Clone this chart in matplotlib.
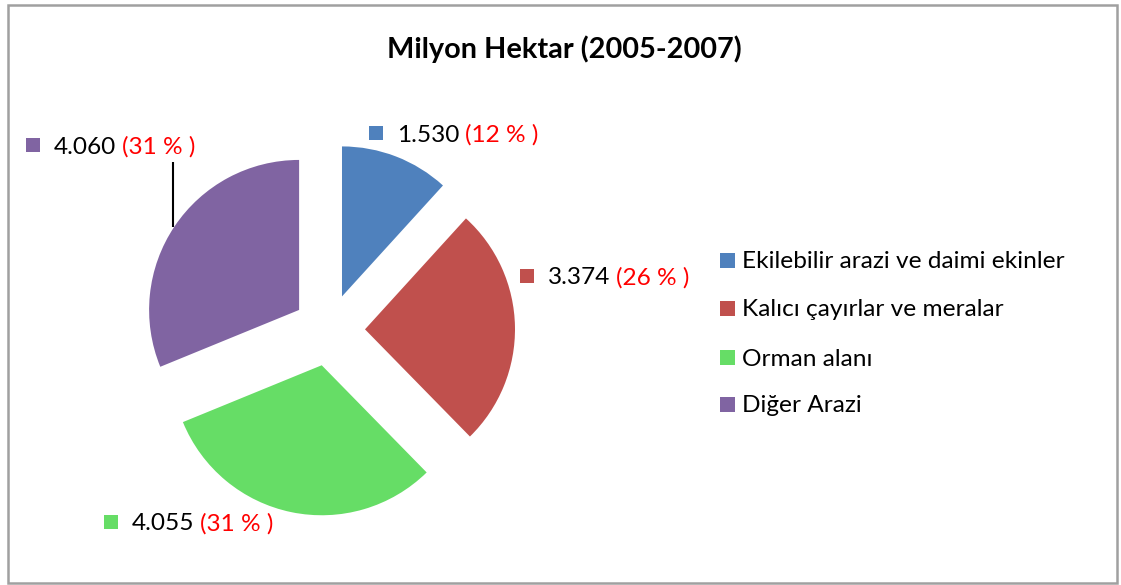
import matplotlib
matplotlib.use("Agg")
import matplotlib.pyplot as plt
from matplotlib.patches import Rectangle

# ---- data ----
categories = ["Ekilebilir arazi ve daimi ekinler", "Kalıcı çayırlar ve meralar",
              "Orman alanı", "Diğer Arazi"]
values = [1530, 3374, 4055, 4060]
value_labels = ["1.530", "3.374", "4.055", "4.060"]
pct_labels = ["(12 % )", "(26 % )", "(31 % )", "(31 % )"]
colors = ["#4F81BD", "#C0504D", "#66DD66", "#8064A2"]
title = "Milyon Hektar (2005-2007)"

W, H = 1121, 585
FONT = "Lato"
FS = 17.6

fig = plt.figure(figsize=(W / 100, H / 100), dpi=100)
ax = fig.add_axes([0, 0, 1, 1])

def Y(y):
    return H - y

cx, cy, r = 329, Y(330), 150
ax.pie(values, colors=colors, startangle=90, counterclock=False,
       explode=[0.24 * r] * len(values), center=(cx, cy), radius=r,
       wedgeprops=dict(linewidth=0))
ax.set_xlim(0, W)
ax.set_ylim(0, H)
ax.set_aspect("equal")
ax.axis("off")

# frame
ax.add_patch(Rectangle((8, Y(583)), 1117 - 8, 583 - 5, fill=False,
                       edgecolor="#A0A0A0", linewidth=1.8))

# title
ax.text(564, Y(49), title, ha="center", va="center", fontsize=20.8,
        fontweight="bold", family=FONT, color="black")

# data labels (square marker, value, percent)
label_pos = [(376, 133), (527, 276), (111, 522), (33, 145)]
sq = 14
for (x, y), c, v, p in zip(label_pos, colors, value_labels, pct_labels):
    ax.add_patch(Rectangle((x - sq / 2, Y(y) - sq / 2), sq, sq,
                           facecolor=c, edgecolor="none"))
    t = ax.text(x + 21, Y(y + 2), v, ha="left", va="center", fontsize=FS,
                family=FONT, color="black")
    ax.annotate(p, xy=(1, 0), xycoords=t, xytext=(4, 0),
                textcoords="offset points", ha="left", va="bottom",
                fontsize=FS, family=FONT, color="#FF0000")

# leader line for the purple label
ax.plot([173, 173], [Y(162), Y(227)], color="black", linewidth=1.5,
        solid_capstyle="butt")

# legend
leg_y = [260, 308, 357, 404]
for yy, c, name in zip(leg_y, colors, categories):
    ax.add_patch(Rectangle((720, Y(yy) - 7.5), 15, 15, facecolor=c,
                           edgecolor="none"))
    ax.text(742, Y(yy + 2), name, ha="left", va="center", fontsize=FS,
            family=FONT, color="black")

fig.savefig("out.png", dpi=100)
